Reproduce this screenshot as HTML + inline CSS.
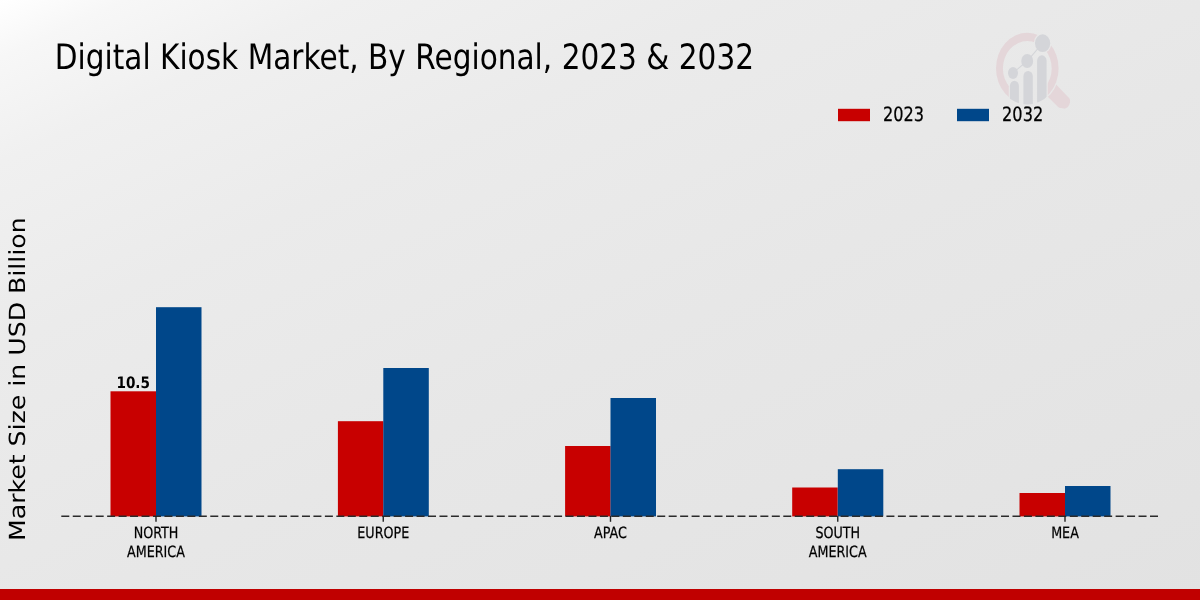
<!DOCTYPE html>
<html>
<head>
<meta charset="utf-8">
<style>
html,body{margin:0;padding:0;width:1200px;height:600px;overflow:hidden;}
body{background:#e8e8e8;}
svg{display:block;will-change:transform;}
text{font-family:"DejaVu Sans","Liberation Sans",sans-serif;fill:#000;text-rendering:geometricPrecision;}
</style>
</head>
<body>
<svg width="1200" height="600" viewBox="0 0 1200 600">
<defs>
<linearGradient id="bg" gradientUnits="userSpaceOnUse" x1="0" y1="0" x2="444" y2="952.6">
<stop offset="0" stop-color="#ffffff"/>
<stop offset="0.05" stop-color="#f7f7f7"/>
<stop offset="0.14" stop-color="#f0f0f0"/>
<stop offset="0.3" stop-color="#ebebeb"/>
<stop offset="0.55" stop-color="#e7e7e7"/>
<stop offset="1" stop-color="#e2e2e2"/>
</linearGradient>
</defs>
<rect x="0" y="0" width="1200" height="600" fill="url(#bg)"/>

<!-- title -->
<text transform="translate(54.7 68.5) scale(0.843 1)" font-size="35.1">Digital Kiosk Market, By Regional, 2023 &amp; 2032</text>

<!-- watermark logo -->
<g id="logo">
<clipPath id="outerclip"><ellipse cx="1027.3" cy="68.4" rx="31.6" ry="36.2"/></clipPath>
<clipPath id="maskclip"><ellipse cx="1027.3" cy="68.4" rx="32.7" ry="37.3"/></clipPath>
<mask id="ringmask" maskUnits="userSpaceOnUse" x="980" y="20" width="110" height="100">
<rect x="980" y="20" width="110" height="100" fill="#fff"/>
<rect x="1008.8" y="76" width="38.9" height="35" fill="#000" clip-path="url(#maskclip)"/>
<ellipse cx="1042.6" cy="43.2" rx="8.8" ry="10.1" fill="#000"/>
</mask>
<mask id="handlemask" maskUnits="userSpaceOnUse" x="980" y="20" width="110" height="100">
<rect x="980" y="20" width="110" height="100" fill="#fff"/>
<ellipse cx="1027.3" cy="68.4" rx="32.5" ry="36.8" fill="#000"/>
</mask>
<path mask="url(#handlemask)" d="M1053 81 L1056.6 84.9 L1069.3 98.2 C1071.8 101.5 1068.3 109.2 1063.8 108.6 C1061.5 108.3 1059.8 108 1058.4 107.3 L1048.3 97.2 L1044 93 Z" fill="#e4d6d9"/>
<path mask="url(#ringmask)" fill-rule="evenodd" fill="#e4d6d9" d="M996 68.4 a31.3 35.6 0 1 0 62.6 0 a31.3 35.6 0 1 0 -62.6 0Z M1002.9 68.4 a24.4 27.3 0 1 0 48.8 0 a24.4 27.3 0 1 0 -48.8 0Z"/>
<g clip-path="url(#outerclip)" fill="#d4d5d9">
<path d="M1009.9 86 a4.5 5.25 0 0 1 9 0 V110 H1009.9Z"/>
<path d="M1023.4 76.4 a4.7 5.4 0 0 1 9.4 0 V110 H1023.4Z"/>
<path d="M1037.1 60.8 a4.75 5.5 0 0 1 9.5 0 V110 H1037.1Z"/>
</g>
<polyline points="1013,72.9 1027.2,61 1042.6,43.2" fill="none" stroke="#d4d5d9" stroke-width="1.1"/>
<ellipse cx="1013" cy="72.9" rx="5" ry="6" fill="#d4d5d9"/>
<ellipse cx="1027.2" cy="61" rx="5.95" ry="7.05" fill="#d4d5d9"/>
<ellipse cx="1042.6" cy="43.2" rx="7.6" ry="8.85" fill="#d4d5d9"/>
</g>

<!-- legend -->
<rect x="838" y="108.8" width="32" height="12.4" fill="#c80000"/>
<text transform="translate(882.9 121.2) scale(0.82 1)" font-size="19.7" stroke="#000" stroke-width="0.25">2023</text>
<rect x="957" y="108.8" width="32" height="12.4" fill="#00478a"/>
<text transform="translate(1002.1 121.2) scale(0.82 1)" font-size="19.7" stroke="#000" stroke-width="0.25">2032</text>

<!-- y label -->
<text transform="translate(24.8 541) rotate(-90) scale(1.135 1)" font-size="22.2">Market Size in USD Billion</text>

<!-- bars -->
<g fill="#c80000">
<rect x="110.5" y="391.3" width="45.5" height="125.1"/>
<rect x="337.9" y="421.2" width="45.5" height="95.2"/>
<rect x="565.1" y="446" width="45.5" height="70.4"/>
<rect x="792.2" y="487.5" width="45.5" height="28.9"/>
<rect x="1019.5" y="493" width="45.5" height="23.4"/>
</g>
<g fill="#00478a">
<rect x="156" y="307.2" width="45.5" height="209.2"/>
<rect x="383.3" y="368" width="45.5" height="148.4"/>
<rect x="610.5" y="398" width="45.5" height="118.4"/>
<rect x="837.8" y="469.2" width="45.5" height="47.2"/>
<rect x="1065" y="486" width="45.5" height="30.4"/>
</g>

<!-- axis dashed line -->
<line x1="61.3" y1="516.2" x2="1160.4" y2="516.2" stroke="#2b2b2b" stroke-width="1.4" stroke-dasharray="8 3.46"/>
<g stroke="#222" stroke-width="1.4">
<line x1="156" y1="516" x2="156" y2="521.8"/>
<line x1="383.25" y1="516" x2="383.25" y2="521.8"/>
<line x1="610.5" y1="516" x2="610.5" y2="521.8"/>
<line x1="837.75" y1="516" x2="837.75" y2="521.8"/>
<line x1="1065" y1="516" x2="1065" y2="521.8"/>
</g>

<!-- data label -->
<text transform="translate(133.2 387.6) scale(0.86 1)" font-size="15.8" font-weight="bold" text-anchor="middle">10.5</text>

<!-- category labels -->
<g font-size="15.5" text-anchor="middle" stroke="#000" stroke-width="0.25">
<text transform="translate(156 538) scale(0.82 1)">NORTH</text>
<text transform="translate(156 557.1) scale(0.82 1)">AMERICA</text>
<text transform="translate(383.25 538) scale(0.82 1)">EUROPE</text>
<text transform="translate(610.5 538) scale(0.82 1)">APAC</text>
<text transform="translate(837.75 538) scale(0.82 1)">SOUTH</text>
<text transform="translate(837.75 557.1) scale(0.82 1)">AMERICA</text>
<text transform="translate(1065 538) scale(0.82 1)">MEA</text>
</g>

<!-- bottom bar -->
<rect x="0" y="589" width="1200" height="11" fill="#c00000"/>
</svg>
</body>
</html>
